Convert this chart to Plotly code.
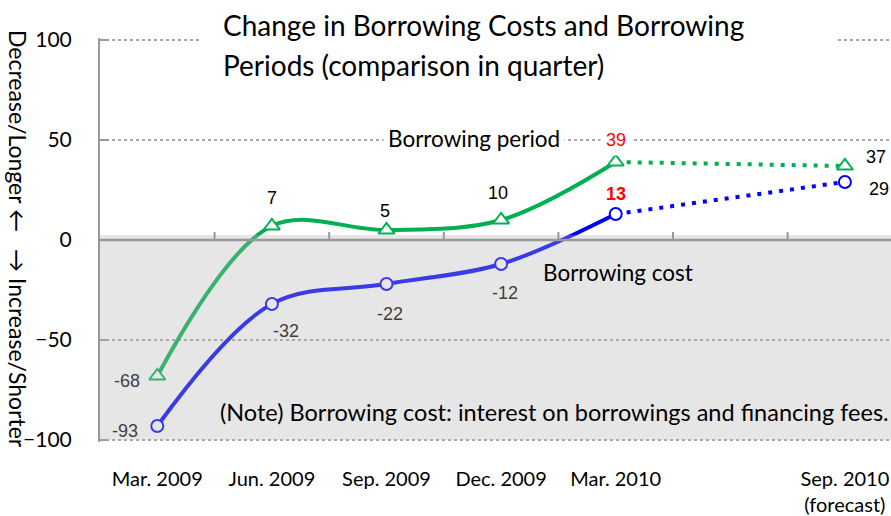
import plotly.graph_objects as go

# ---- data ----
categories = ["Mar. 2009", "Jun. 2009", "Sep. 2009", "Dec. 2009", "Mar. 2010", "Jun. 2010", "Sep. 2010"]
tick_labels = ["Mar. 2009", "Jun. 2009", "Sep. 2009", "Dec. 2009", "Mar. 2010", "", "Sep. 2010<br>(forecast)"]
period_actual = [-68, 7, 5, 10, 39]          # Borrowing period (Mar.2009 - Mar.2010)
period_forecast = [39, 37]                   # Mar.2010 -> Sep.2010 (forecast)
cost_actual = [-93, -32, -22, -12, 13]        # Borrowing cost
cost_forecast = [13, 29]
forecast_cats = ["Mar. 2010", "Sep. 2010"]

# label offsets (px) for data labels: (dx, dy)  dy positive = down
period_offsets = [(-30, 5), (0, -28), (-2, -19), (-3, -27), (0, -22), (31, -9)]
cost_offsets = [(-32, 5), (14, 27), (3, 30), (4, 29), (0, -20), (34, 7)]

GREEN = "#00B050"
BLUE = "#0000FF"
FONT = "Lato"
W, H = 891, 516
L, R, T, B = 100, 0, 38, 74
PW, PH = W - L - R, H - T - B


def px_x(px):
    return (px - L) / PW


def px_y(py):
    return (H - B - py) / PH


fig = go.Figure()

# solid lines
fig.add_trace(go.Scatter(x=categories[:5], y=period_actual, mode="lines",
                         line=dict(color=GREEN, width=4, shape="spline", smoothing=1.0),
                         hoverinfo="skip", showlegend=False))
fig.add_trace(go.Scatter(x=categories[:5], y=cost_actual, mode="lines",
                         line=dict(color=BLUE, width=4, shape="spline", smoothing=1.0),
                         hoverinfo="skip", showlegend=False))
# dotted forecast lines
fig.add_trace(go.Scatter(x=forecast_cats, y=period_forecast, mode="lines",
                         line=dict(color=GREEN, width=4, dash="4px,7px"),
                         hoverinfo="skip", showlegend=False))
fig.add_trace(go.Scatter(x=forecast_cats, y=cost_forecast, mode="lines",
                         line=dict(color=BLUE, width=4, dash="4px,7px"),
                         hoverinfo="skip", showlegend=False))

marker_cats = categories[:5] + [categories[6]]
period_all = period_actual + [period_forecast[-1]]
cost_all = cost_actual + [cost_forecast[-1]]

fig.add_trace(go.Scatter(x=marker_cats, y=period_all, mode="markers",
                         marker=dict(symbol="triangle-up", size=14, color="white",
                                     line=dict(color=GREEN, width=2)),
                         showlegend=False))
fig.add_trace(go.Scatter(x=marker_cats, y=cost_all, mode="markers",
                         marker=dict(symbol="circle", size=12, color="white",
                                     line=dict(color=BLUE, width=2)),
                         showlegend=False))

annotations = []


def label_color(v):
    return "#404040" if v < 0 else "black"


LBL_FONT = "Liberation Sans, Arial"
for i, (c, v) in enumerate(zip(marker_cats, period_all)):
    dx, dy = period_offsets[i]
    is_red = c == "Mar. 2010"
    annotations.append(dict(x=c, y=v, xref="x", yref="y", text=str(v), showarrow=False,
                            xshift=dx, yshift=-dy,
                            font=dict(family=LBL_FONT, size=18, color="red" if is_red else label_color(v)),
                            bgcolor="white" if is_red else None,
                            borderpad=5 if is_red else 0))
for i, (c, v) in enumerate(zip(marker_cats, cost_all)):
    dx, dy = cost_offsets[i]
    if c == "Mar. 2010":
        txt, col = "<b>%d</b>" % v, "red"
    else:
        txt, col = str(v), label_color(v)
    annotations.append(dict(x=c, y=v, xref="x", yref="y", text=txt, showarrow=False,
                            xshift=dx, yshift=-dy,
                            font=dict(family=LBL_FONT, size=18, color=col)))

# white text box behind the title (hides the top gridline)
annotations.append(dict(xref="paper", yref="paper", x=px_x(518), y=px_y(46),
                        xanchor="center", yanchor="middle", showarrow=False,
                        text=" ", width=634, height=76, bgcolor="white", borderpad=0))
# title (two lines)
for txt, yc in [("Change in Borrowing Costs and Borrowing", 25),
                ("Periods (comparison in quarter)", 65)]:
    annotations.append(dict(xref="paper", yref="paper", x=px_x(221), y=px_y(yc),
                            xanchor="left", yanchor="middle", align="left", showarrow=False,
                            text=txt, font=dict(family=FONT, size=28, color="black")))
# series labels
annotations.append(dict(xref="paper", yref="paper", x=px_x(474), y=px_y(138),
                        xanchor="center", yanchor="middle", showarrow=False,
                        text="Borrowing period", bgcolor="white", borderpad=4,
                        font=dict(family=FONT, size=22.5, color="black")))
annotations.append(dict(xref="paper", yref="paper", x=px_x(618), y=px_y(272),
                        xanchor="center", yanchor="middle", showarrow=False,
                        text="Borrowing cost",
                        font=dict(family=FONT, size=22.5, color="black")))
annotations.append(dict(xref="paper", yref="paper", x=px_x(218), y=px_y(412),
                        xanchor="left", yanchor="middle", showarrow=False,
                        text="(Note) Borrowing cost: interest on borrowings and financing fees.",
                        font=dict(family=FONT, size=23.5, color="black")))
# y axis titles
annotations.append(dict(xref="paper", yref="paper", x=px_x(18), y=px_y(131),
                        xanchor="center", yanchor="middle", showarrow=False, textangle=90,
                        text="Decrease/Longer ←",
                        font=dict(family=FONT, size=23, color="black")))
annotations.append(dict(xref="paper", yref="paper", x=px_x(18), y=px_y(348),
                        xanchor="center", yanchor="middle", showarrow=False, textangle=90,
                        text="→ Increase/Shorter",
                        font=dict(family=FONT, size=23, color="black")))

shapes = []
# gray translucent overlay for negative region
shapes.append(dict(type="rect", xref="paper", yref="y", x0=0, x1=1, y0=-100, y1=2.5,
                   fillcolor="rgba(180,180,180,0.33)", line=dict(width=0), layer="above"))
# zero line
shapes.append(dict(type="line", xref="paper", yref="y", x0=0, x1=1, y0=0, y1=0,
                   line=dict(color="#999999", width=2.5), layer="above"))
# category boundary tick marks on the zero line
for i in range(len(categories) - 1):
    shapes.append(dict(type="line", xref="x", yref="y", x0=i + 0.5, x1=i + 0.5, y0=0, y1=4,
                       line=dict(color="#999999", width=2), layer="above"))

fig.update_layout(
    width=W, height=H,
    margin=dict(l=L, r=R, t=T, b=B, autoexpand=False),
    paper_bgcolor="white", plot_bgcolor="white",
    showlegend=False,
    annotations=annotations,
    shapes=shapes,
    xaxis=dict(type="category", categoryorder="array", categoryarray=categories,
               tickvals=categories, ticktext=tick_labels, automargin=False,
               range=[-0.5, -0.5 + PW / 114.6], showgrid=False, zeroline=False,
               showline=False, ticks="", ticklabelstandoff=23,
               tickfont=dict(family=FONT, size=20, color="black")),
    yaxis=dict(range=[-101, 101], tickvals=[-100, -50, 0, 50, 100], automargin=False,
               showgrid=True, gridcolor="#A6A6A6", griddash="dot", gridwidth=1.5,
               zeroline=False, showline=True, linecolor="#999999", linewidth=2,
               ticks="inside", ticklen=9, tickcolor="#999999", tickwidth=2,
               ticklabelstandoff=22,
               tickfont=dict(family=FONT, size=21, color="black")),
)

fig.write_html("out.html")
